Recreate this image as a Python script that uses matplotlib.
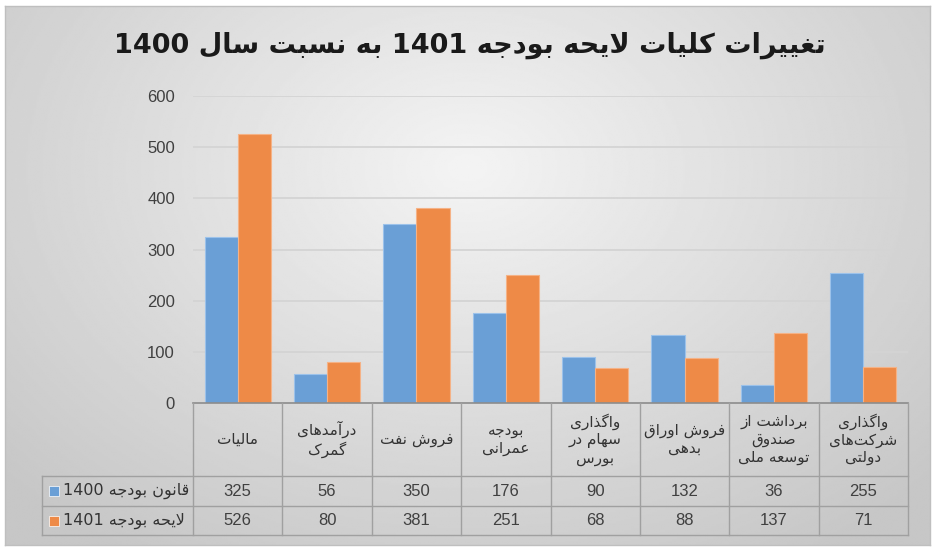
import numpy as np
import matplotlib.pyplot as plt
import matplotlib.transforms as mtransforms
from matplotlib.patches import Rectangle
from matplotlib.lines import Line2D

#------------------------------------------------------------------------------
# data
categories = ["مالیات", "درآمدهای\nگمرک", "فروش نفت", "بودجه\nعمرانی",
              "واگذاری\nسهام در\nبورس", "فروش اوراق\nبدهی",
              "برداشت از\nصندوق\nتوسعه ملی", "واگذاری\nشرکت\u200cهای\nدولتی"]
budget_1400 = [325, 56, 350, 176, 90, 132, 36, 255]
budget_1401 = [526, 80, 381, 251, 68, 88, 137, 71]
series_names = ["قانون بودجه 1400", "لایحه بودجه 1401"]
title_text = "تغییرات کلیات لایحه بودجه 1401 به نسبت سال 1400"
y_ticks = [0, 100, 200, 300, 400, 500, 600]

blue = '#6a9fd6'
orange = '#ee8a47'

#------------------------------------------------------------------------------
# petit "reshaper" arabe/persan (pas de bidi dans matplotlib)
FORMS = {
    'ا': (0xFE8D, 0xFE8E), 'آ': (0xFE81, 0xFE82),
    'د': (0xFEA9, 0xFEAA), 'ذ': (0xFEAB, 0xFEAC),
    'ر': (0xFEAD, 0xFEAE), 'ز': (0xFEAF, 0xFEB0),
    'و': (0xFEED, 0xFEEE),
    'ب': (0xFE8F, 0xFE90, 0xFE91, 0xFE92), 'ت': (0xFE95, 0xFE96, 0xFE97, 0xFE98),
    'ج': (0xFE9D, 0xFE9E, 0xFE9F, 0xFEA0), 'ح': (0xFEA1, 0xFEA2, 0xFEA3, 0xFEA4),
    'س': (0xFEB1, 0xFEB2, 0xFEB3, 0xFEB4), 'ش': (0xFEB5, 0xFEB6, 0xFEB7, 0xFEB8),
    'ص': (0xFEB9, 0xFEBA, 0xFEBB, 0xFEBC), 'ع': (0xFEC9, 0xFECA, 0xFECB, 0xFECC),
    'غ': (0xFECD, 0xFECE, 0xFECF, 0xFED0), 'ف': (0xFED1, 0xFED2, 0xFED3, 0xFED4),
    'ق': (0xFED5, 0xFED6, 0xFED7, 0xFED8), '\u06a9': (0xFB8E, 0xFB8F, 0xFB90, 0xFB91),
    'گ': (0xFB92, 0xFB93, 0xFB94, 0xFB95), 'ل': (0xFEDD, 0xFEDE, 0xFEDF, 0xFEE0),
    'م': (0xFEE1, 0xFEE2, 0xFEE3, 0xFEE4), 'ن': (0xFEE5, 0xFEE6, 0xFEE7, 0xFEE8),
    'ه': (0xFEE9, 0xFEEA, 0xFEEB, 0xFEEC), '\u06cc': (0xFBFC, 0xFBFD, 0xFBFE, 0xFBFF),
}
LAMALEF = {'ا': (0xFEFB, 0xFEFC), 'آ': (0xFEF5, 0xFEF6)}


def shape_word(w):
    w = w.replace('\u064a', '\u06cc').replace('\u0643', '\u06a9')
    if not any(c in FORMS for c in w):
        return w  # nombres : on ne touche pas
    out = []
    prev_dual = False
    i = 0
    while i < len(w):
        ch = w[i]
        if ch not in FORMS:
            if ch != '\u200c':
                out.append(ch)
            prev_dual = False
            i += 1
            continue
        if ch == 'ل' and i + 1 < len(w) and w[i + 1] in LAMALEF:
            f = LAMALEF[w[i + 1]]
            out.append(chr(f[1] if prev_dual else f[0]))
            prev_dual = False
            i += 2
            continue
        f = FORMS[ch]
        nxt = w[i + 1] if i + 1 < len(w) else ''
        next_join = len(f) == 4 and nxt in FORMS
        if prev_dual and next_join:
            g = f[3]
        elif prev_dual:
            g = f[1]
        elif next_join:
            g = f[2]
        else:
            g = f[0]
        out.append(chr(g))
        prev_dual = len(f) == 4
        i += 1
    return ''.join(out[::-1])


def rtl(text):
    lines = []
    for line in text.split('\n'):
        words = line.split(' ')[::-1]
        lines.append(' '.join(shape_word(w) for w in words))
    return '\n'.join(lines)

#------------------------------------------------------------------------------
W, H = 935, 553
fig = plt.figure(figsize=(W / 100, H / 100), dpi=100)
fig.patch.set_facecolor('white')

def fx(px):
    return px / W

def fy(py):
    return 1 - py / H

# fond dégradé de la zone du graphique
bg = fig.add_axes([fx(5), fy(545), fx(925), 539 / H])
yy, xx = np.mgrid[0:1:300j, 0:1:500j]
r = np.sqrt(((xx - 0.5) * 1.0) ** 2 + ((yy - 0.3) * 0.8) ** 2)
grad = 0.955 - 0.16 * np.clip(r / 0.62, 0, 1.1)
bg.imshow(grad, cmap='gray', vmin=0, vmax=1, aspect='auto', extent=[0, 1, 1, 0],
          interpolation='bilinear')
bg.set_xlim(0, 1)
bg.set_ylim(1, 0)
bg.set_xticks([])
bg.set_yticks([])
for s in bg.spines.values():
    s.set_color('#bfbfbf')
    s.set_linewidth(1)
bg.set_zorder(0)

# axes principal
ax = fig.add_axes([fx(193), fy(403), fx(908) - fx(193), fy(96) - fy(403)])
ax.set_zorder(1)
ax.patch.set_alpha(0)
x = np.arange(len(categories))
bw = 0.37
ax.bar(x - bw / 2, budget_1400, bw, color=blue, edgecolor='#9cc2ea', linewidth=0.8, zorder=3)
ax.bar(x + bw / 2, budget_1401, bw, color=orange, edgecolor='#f5b286', linewidth=0.8, zorder=3)
ax.set_xlim(-0.5, len(categories) - 0.5)
ax.set_ylim(0, 600)
ax.set_yticks(y_ticks)
ax.set_yticklabels([str(v) for v in y_ticks], fontsize=12, color='#404040',
                   family='Liberation Sans')
ax.tick_params(axis='y', length=0, pad=13)
ax.set_xticks([])
ax.grid(axis='y', color='#d4d4d4', linewidth=1.3, zorder=0)
for s in ['left', 'right', 'top', 'bottom']:
    ax.spines[s].set_visible(False)

# titre
fig.text(fx(470), fy(45), rtl(title_text), ha='center', va='center',
         fontsize=19.5, fontweight='bold', color='#1a1a1a', family='DejaVu Sans')

# tableau de données
tr = mtransforms.blended_transform_factory(ax.transData, fig.transFigure)
line_col = '#a0a0a0'
n = len(categories)
y_top, y_r1, y_r2, y_bot = fy(403), fy(476), fy(506), fy(535)
fig.add_artist(Line2D([fx(193), fx(908)], [y_top, y_top], color='#8c8c8c', lw=1.2, transform=fig.transFigure, zorder=5))
for yv in [y_r1, y_r2, y_bot]:
    fig.add_artist(Line2D([fx(42), fx(908)], [yv, yv], color=line_col, lw=1, transform=fig.transFigure, zorder=5))
for k in range(n + 1):
    fig.add_artist(Line2D([k - 0.5, k - 0.5], [y_top, y_bot], color=line_col, lw=1, transform=tr, zorder=5))
fig.add_artist(Line2D([fx(42), fx(42)], [y_r1, y_bot], color=line_col, lw=1, transform=fig.transFigure, zorder=5))

num_font = 'Liberation Sans'
for k in range(n):
    fig.text(k, (y_top + y_r1) / 2, rtl(categories[k]), transform=tr, ha='center', va='center',
             fontsize=11, color='#333333', family='DejaVu Sans', linespacing=1.2, multialignment='center')
    fig.text(k, (y_r1 + y_r2) / 2, str(budget_1400[k]), transform=tr, ha='center', va='center',
             fontsize=12, color='#404040', family=num_font)
    fig.text(k, (y_r2 + y_bot) / 2, str(budget_1401[k]), transform=tr, ha='center', va='center',
             fontsize=12, color='#404040', family=num_font)

# clés de légende
for yc, col, name in [((y_r1 + y_r2) / 2, blue, series_names[0]), ((y_r2 + y_bot) / 2, orange, series_names[1])]:
    fig.add_artist(Rectangle((fx(49), yc - 5 / H), 10 / W, 10 / H, facecolor=col,
                             edgecolor='white', lw=0.5, transform=fig.transFigure, zorder=6))
    fig.text(fx(63), yc, rtl(name), ha='left', va='center', fontsize=11.5,
             color='#333333', family=['DejaVu Sans'])

plt.savefig('out.png', dpi=100)
